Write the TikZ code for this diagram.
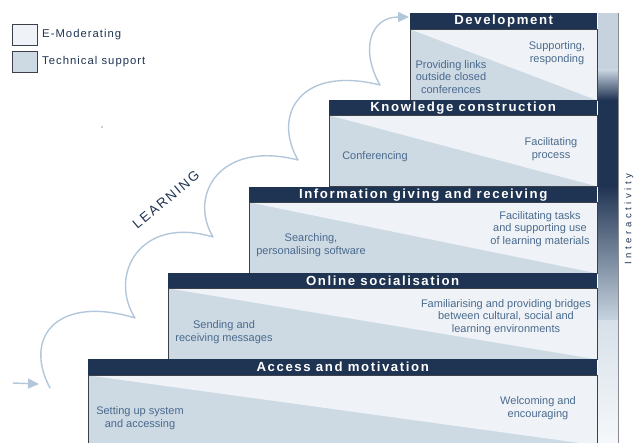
\documentclass[tikz,border=0pt]{standalone}
\usepackage{fontspec}
\setmainfont{Liberation Sans}
\newfontfamily\hdrfont[LetterSpace=12]{Liberation Sans}
\newfontfamily\legfont[LetterSpace=9]{Liberation Sans}
\newfontfamily\learnfont[LetterSpace=14]{Liberation Sans}
\newfontfamily\interfont[LetterSpace=38]{Liberation Sans}
\usetikzlibrary{arrows.meta}

\definecolor{navy}{HTML}{1F3352}
\definecolor{techc}{HTML}{CDD9E3}
\definecolor{emodc}{HTML}{EFF3F7}
\definecolor{bodytxt}{HTML}{4A6A8D}
\definecolor{learnc}{HTML}{B3C7DA}
\definecolor{edgec}{HTML}{3C4048}
\definecolor{barlight}{HTML}{C6D3DF}

\tikzset{
  header/.style={fill=navy, text=white, inner sep=0pt, anchor=north west,
    font=\hdrfont\bfseries\fontsize{13.2}{14}\selectfont},
  stepbody/.style={fill=techc, draw=edgec, line width=0.8pt, inner sep=0pt,
    anchor=north west,
    path picture={\fill[emodc] (path picture bounding box.north west)
      -- (path picture bounding box.north east)
      -- (path picture bounding box.south east) -- cycle;}},
  bodytext/.style={text=bodytxt, align=center, inner sep=0pt,
    font=\fontsize{11}{12.8}\selectfont},
  legbox/.style={draw=edgec, line width=0.8pt, minimum width=25pt,
    minimum height=21pt, inner sep=0pt, anchor=north west},
  legtext/.style={text=navy, anchor=west, inner sep=0pt,
    font=\legfont\fontsize{11.3}{12}\selectfont},
  learnline/.style={draw=learnc, line width=1.4pt, line cap=round,
    line join=round},
  learntip/.style={-{Triangle[length=11pt,width=10pt]}}
}

\begin{document}
\begin{tikzpicture}[x=1pt, y=-1pt]
\useasboundingbox (0,0) rectangle (636,443);

% legend
\node[legbox, fill=emodc] (lege) at (12,24) {};
\node[legtext] (legetxt) at (42,35) {E-Moderating};
\node[legbox, fill=techc] (legt) at (12,51) {};
\node[legtext] (legttxt) at (42,62) {Technical support};
\fill[navy] (102,127) circle (0.6pt);

% interactivity bar
\fill[barlight] (598,13) rectangle (618,70);
\shade[top color=barlight, bottom color=navy] (598,70) rectangle (618,100);
\fill[navy] (598,100) rectangle (618,185);
\shade[top color=navy, bottom color=barlight] (598,185) rectangle (618,320);
\shade[top color=barlight!70!white, bottom color=emodc!60!white] (598,320) rectangle (618,443);
\draw[edgec!60, line width=0.6pt] (618,13) -- (618,443);
\node[rotate=90, text=navy, inner sep=0pt, font=\interfont\fontsize{9.5}{10}\selectfont]
  (inter) at (629,219) {Interactivity};

% step 5: development
\node[stepbody, minimum width=187pt, minimum height=71pt] (devb) at (410,29) {};
\node[header, minimum width=187pt, minimum height=16pt] (devh) at (410,13) {Development};
\node[bodytext] (devl) at (451,77) {Providing links\\outside closed\\conferences};
\node[bodytext] (devr) at (557,53) {Supporting,\\responding};

% step 4: knowledge construction
\node[stepbody, minimum width=268pt, minimum height=71pt] (kcb) at (329,115) {};
\node[header, minimum width=268pt, minimum height=15pt] (kch) at (329,100) {Knowledge construction};
\node[bodytext] (kcl) at (375,157) {Conferencing};
\node[bodytext] (kcr) at (551,149) {Facilitating\\process};

% step 3: information giving and receiving
\node[stepbody, minimum width=348pt, minimum height=71pt] (igb) at (249,202) {};
\node[header, minimum width=348pt, minimum height=15pt] (igh) at (249,187) {Information giving and receiving};
\node[bodytext] (igl) at (311,245) {Searching,\\personalising software};
\node[bodytext] (igr) at (540,229) {Facilitating tasks\\and supporting use\\of learning materials};

% step 2: online socialisation
\node[stepbody, minimum width=429pt, minimum height=71pt] (osb) at (168,288) {};
\node[header, minimum width=429pt, minimum height=15pt] (osh) at (168,273) {Online socialisation};
\node[bodytext] (osl) at (224,332) {Sending and\\receiving messages};
\node[bodytext] (osr) at (506,317) {Familiarising and providing bridges\\between cultural, social and\\learning environments};

% step 1: access and motivation
\node[stepbody, minimum width=509pt, minimum height=70pt] (amb) at (88,375) {};
\node[header, minimum width=509pt, minimum height=16pt] (amh) at (88,359) {Access and motivation};
\node[bodytext] (aml) at (140,418) {Setting up system\\and accessing};
\node[bodytext] (amr) at (538,408) {Welcoming and\\encouraging};

% learning path
\coordinate (ina) at (13,383);
\coordinate (inb) at (39,384);
\coordinate (ls) at (50,388);
\coordinate (c1) at (135,318);
\coordinate (c2) at (213,237);
\coordinate (c3) at (298,160);
\coordinate (c4) at (380,85);
\coordinate (le) at (409,17);
\draw[learnline, learntip] (ina) -- (inb);
\draw[learnline, learntip] (ls)
  .. controls (22,335) and (60,295) .. (c1)
  .. controls (108,275) and (140,215) .. (c2)
  .. controls (188,195) and (220,140) .. (c3)
  .. controls (272,115) and (300,65) .. (c4)
  .. controls (360,50) and (370,17) .. (le);
\node[rotate=40, text=navy, inner sep=0pt, font=\learnfont\fontsize{13.5}{14}\selectfont]
  (learn) at (166,200) {LEARNING};
\end{tikzpicture}
\end{document}
